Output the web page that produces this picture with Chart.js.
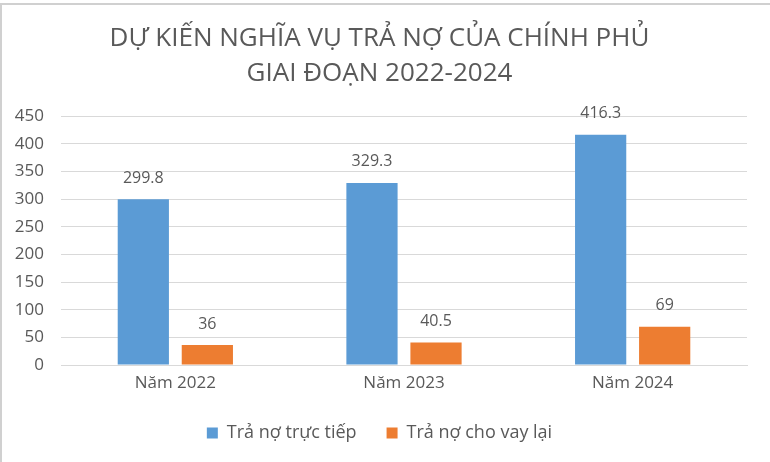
<!DOCTYPE html>
<html>
<head>
<meta charset="utf-8">
<script src="https://cdn.jsdelivr.net/npm/chart.js@4/dist/chart.umd.min.js"></script>
<style>
  html, body { margin: 0; padding: 0; background: #fff; }
  #wrap { width: 770px; height: 462px; }
</style>
</head>
<body>
<div id="wrap"><canvas id="myChart" width="770" height="462"></canvas></div>
<script>
const categories = ["Năm 2022", "Năm 2023", "Năm 2024"];
const traTrucTiep = [299.8, 329.3, 416.3];
const choVayLai = [36, 40.5, 69];
const seriesNames = ["Trả nợ trực tiếp", "Trả nợ cho vay lại"];
const titleLines = ["DỰ KIẾN NGHĨA VỤ TRẢ NỢ CỦA CHÍNH PHỦ", "GIAI ĐOẠN 2022-2024"];

const grey = "#595959";
const fontFam = "'Open Sans', 'Noto Sans', sans-serif";

// nhan gia tri tren dau cot
const barLabels = {
  id: "barLabels",
  afterDatasetsDraw(chart) {
    const ctx = chart.ctx;
    ctx.save();
    ctx.font = "16px " + fontFam;
    ctx.fillStyle = grey;
    ctx.textAlign = "center";
    ctx.textBaseline = "middle";
    chart.data.datasets.forEach((ds, i) => {
      chart.getDatasetMeta(i).data.forEach((bar, j) => {
        ctx.fillText(String(ds.data[j]), bar.x, bar.y - 21);
      });
    });
    ctx.restore();
  }
};

const whiteBg = {
  id: "whiteBg",
  beforeDraw(chart) {
    const ctx = chart.ctx;
    ctx.save();
    ctx.fillStyle = "#fff";
    ctx.fillRect(0, 0, chart.width, chart.height);
    ctx.strokeStyle = "#d0d0d0";
    ctx.lineWidth = 2;
    ctx.beginPath();
    ctx.moveTo(0, 4); ctx.lineTo(chart.width, 4);
    ctx.moveTo(1, 4); ctx.lineTo(1, chart.height);
    ctx.stroke();
    ctx.restore();
  }
};

document.addEventListener("DOMContentLoaded", function () {
  const ctx = document.getElementById("myChart").getContext("2d");
  new Chart(ctx, {
    type: "bar",
    data: {
      labels: categories,
      datasets: [
        { label: seriesNames[0], data: traTrucTiep, backgroundColor: "#5B9BD5" },
        { label: seriesNames[1], data: choVayLai, backgroundColor: "#ED7D31" }
      ]
    },
    options: {
      responsive: false,
      animation: false,
      layout: { padding: { left: 12, right: 23, top: 0, bottom: 10 } },
      datasets: { bar: { categoryPercentage: 0.56, barPercentage: 0.8 } },
      scales: {
        x: {
          afterFit: s => { s.height = 29; },
          grid: { display: false, drawTicks: false },
          border: { color: "#d9d9d9" },
          ticks: { color: grey, font: { family: fontFam, size: 17 }, padding: 8 }
        },
        y: {
          min: 0, max: 450,
          afterFit: s => { s.width = 49; },
          grid: { color: "#d9d9d9", drawTicks: false },
          border: { display: false },
          ticks: { stepSize: 50, color: grey, font: { family: fontFam, size: 17 }, padding: 17 }
        }
      },
      plugins: {
        title: {
          display: true,
          text: titleLines,
          color: grey,
          font: { family: fontFam, size: 26, weight: "normal", lineHeight: 1.35 },
          padding: { top: 21, bottom: 25 }
        },
        legend: {
          position: "bottom",
          labels: {
            color: grey,
            boxWidth: 11, boxHeight: 11,
            font: { family: fontFam, size: 18 },
            padding: 30
          }
        },
        tooltip: { enabled: false }
      }
    },
    plugins: [whiteBg, barLabels]
  });
});
</script>
</body>
</html>
